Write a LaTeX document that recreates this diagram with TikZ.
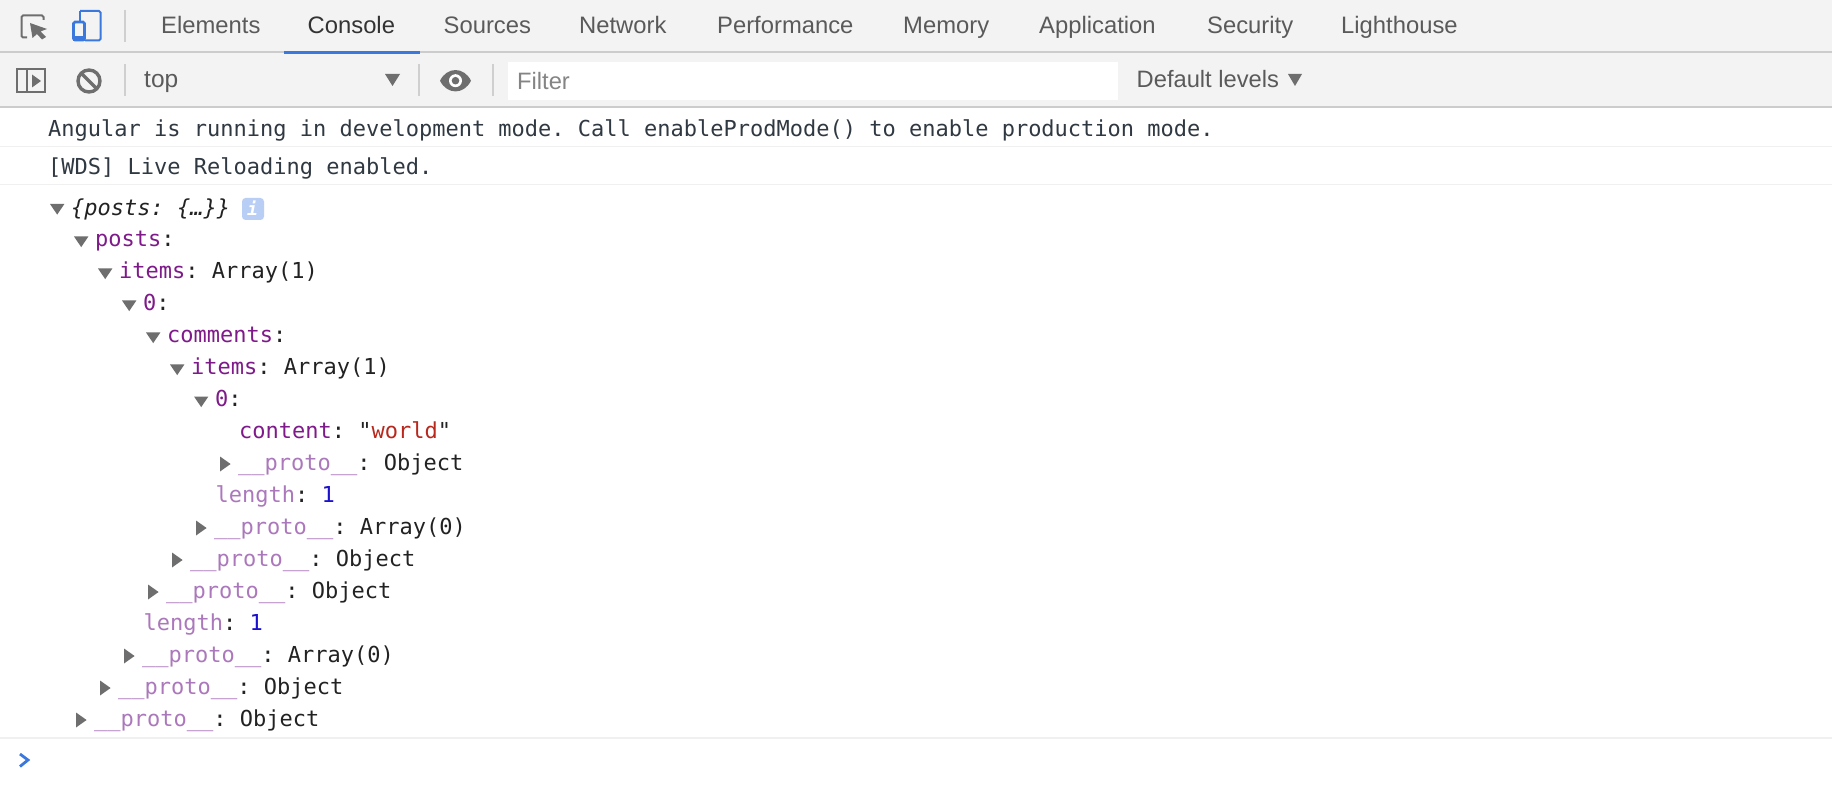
\documentclass[tikz,border=0pt]{standalone}
\usepackage{fontspec}
\setmainfont{Liberation Sans}
\setmonofont{DejaVu Sans Mono}
\definecolor{barbg}{HTML}{F3F3F3}
\definecolor{barline}{HTML}{CCCCCC}
\definecolor{rowline}{HTML}{F0F0F0}
\definecolor{sepcol}{HTML}{CFCFCF}
\definecolor{tabtxt}{HTML}{5A5A5A}
\definecolor{tabact}{HTML}{333333}
\definecolor{accent}{HTML}{3A78DE}
\definecolor{icongray}{HTML}{6E6E6E}
\definecolor{logtxt}{HTML}{303942}
\definecolor{keycol}{HTML}{7F1A8A}
\definecolor{fadecol}{HTML}{AC78BC}
\definecolor{strcol}{HTML}{B8281C}
\definecolor{numcol}{HTML}{1C10CF}
\definecolor{objcol}{HTML}{222222}
\definecolor{badge}{HTML}{B9CEF5}
\newcommand{\Ky}[1]{\textcolor{keycol}{#1}}
\newcommand{\Fd}[1]{\textcolor{fadecol}{#1}}
\newcommand{\Prt}{\Fd{\_\_proto\_\_}}
\newcommand{\Tdown}[2]{\fill[icongray] (#1,#2) -- ++(14.4,0) -- ++(-7.2,10.6) -- cycle;}
\newcommand{\Tright}[2]{\fill[icongray] (#1,#2) -- ++(10.6,7.5) -- ++(-10.6,7.5) -- cycle;}
\tikzset{
  x=1pt,y=-1pt,
  tab/.style={anchor=base west,inner sep=0pt,text=tabtxt,font=\fontsize{23.8}{28}\selectfont},
  bar/.style={anchor=base west,inner sep=0pt,text=tabtxt,font=\fontsize{23.7}{28}\selectfont},
  logline/.style={anchor=base west,inner sep=0pt,text=logtxt,font=\ttfamily\fontsize{22}{26}\selectfont},
  tree/.style={anchor=base west,inner sep=0pt,text=objcol,font=\ttfamily\fontsize{22}{26}\selectfont},
  sep/.style={draw=sepcol,line width=1.6pt},
}
\begin{document}
\begin{tikzpicture}
\useasboundingbox (0,0) rectangle (1832,802);
\fill[white] (0,0) rectangle (1832,802);
% bars
\fill[barbg] (0,0) rectangle (1832,106);
\draw[barline,line width=2pt] (0,52.5) -- (1832,52.5);
\draw[barline,line width=2pt] (0,107) -- (1832,107);
\draw[accent,line width=3pt] (284,52.3) -- (420,52.3);
\draw[rowline,line width=1.6pt] (0,146.7) -- (1832,146.7);
\draw[rowline,line width=1.6pt] (0,184.5) -- (1832,184.5);
\draw[rowline,line width=1.6pt] (0,738) -- (1832,738);
% tabs
\node[tab] (elements) at (161,34) {Elements};
\node[tab,text=tabact] (console) at (307.5,34) {Console};
\node[tab] (sources) at (443.5,34) {Sources};
\node[tab] (network) at (579,34) {Network};
\node[tab] (performance) at (717,34) {Performance};
\node[tab] (memory) at (903,34) {Memory};
\node[tab] (application) at (1039,34) {Application};
\node[tab] (security) at (1207,34) {Security};
\node[tab] (lighthouse) at (1341,34) {Lighthouse};
% top icons
\draw[icongray,line width=2pt,rounded corners=1.5pt] (27,37.5) -- (21.5,37.5) -- (21.5,15.5) -- (43.5,15.5) -- (43.5,20);
\fill[icongray] (30,23) -- (47,29) -- (40.5,31.5) -- (46,37) -- (42,39.5) -- (37,34) -- (32.5,38) -- cycle;
\draw[accent,line width=2pt,rounded corners=1.5pt] (80,11) -- (100.5,11) -- (100.5,40.5) -- (85,40.5);
\draw[accent,line width=2pt,rounded corners=1pt] (80,21) -- (80,11);
\draw[accent,line width=2.6pt,rounded corners=1.5pt] (73.5,22) rectangle (84.5,40);
\fill[accent] (73,36.5) rectangle (85,41.5);
\draw[sep] (125,10) -- (125,41.7);
% toolbar icons
\draw[icongray,line width=2pt] (17,69) rectangle (45,92.5);
\draw[icongray,line width=2pt] (26.5,69) -- (26.5,92.5);
\fill[icongray] (32,74.5) -- (41,81) -- (32,87.5) -- cycle;
\draw[icongray,line width=3.4pt] (89,81) circle (11);
\draw[icongray,line width=3.4pt] (81.5,73.5) -- (96.5,88.5);
\draw[sep] (125,64) -- (125,96);
\node[bar,font=\fontsize{24.5}{28}\selectfont] (top) at (144,88) {top};
\fill[icongray] (385,74) -- (400,74) -- (392.5,86) -- cycle;
\draw[sep] (419,64) -- (419,96);
\fill[icongray] (440,80.7) .. controls (447,66.5) and (464,66.5) .. (471,80.7) .. controls (464,95) and (447,95) .. (440,80.7) -- cycle;
\fill[white] (455.5,80.7) circle (6.5);
\fill[icongray] (455.5,80.7) circle (3.8);
\draw[sep] (493,64) -- (493,96);
\fill[white] (508,62) rectangle (1118,100);
\node[bar,text=icongray!85] (filter) at (517,89.5) {Filter};
\node[bar] (levels) at (1136.5,88) {Default levels};
\fill[icongray] (1288,74) -- (1302,74) -- (1295,86) -- cycle;
% log lines
\node[logline] (log1) at (48,137) {Angular is running in development mode. Call enableProdMode() to enable production mode.};
\node[logline] (log2) at (48,175) {[WDS] Live Reloading enabled.};
% tree
\Tdown{50}{204}
\node[tree] (r0) at (71,216) {\itshape\{posts: \{…\}\}};
\fill[badge,rounded corners=3.5pt] (242,198) rectangle (264,220);
\node[anchor=base,inner sep=0pt,text=white,font=\ttfamily\itshape\bfseries\fontsize{18}{20}\selectfont] (info) at (252.5,216) {i};
\Tdown{74}{236.5}
\node[tree] (r1) at (95,246.5) {\Ky{posts}:};
\Tdown{98}{268.5}
\node[tree] (r2) at (119,278.5) {\Ky{items}: Array(1)};
\Tdown{122}{300.5}
\node[tree] (r3) at (143,310.5) {\Ky{0}:};
\Tdown{146}{332.5}
\node[tree] (r4) at (167,342.5) {\Ky{comments}:};
\Tdown{170}{364.5}
\node[tree] (r5) at (191,374.5) {\Ky{items}: Array(1)};
\Tdown{194}{396.5}
\node[tree] (r6) at (215,406.5) {\Ky{0}:};
\node[tree] (r7) at (239,438) {\Ky{content}: "\textcolor{strcol}{world}"};
\Tright{220}{456.5}
\node[tree] (r8) at (238,470) {\Prt: Object};
\node[tree] (r9) at (215.5,502) {\Fd{length}: \textcolor{numcol}{1}};
\Tright{196}{520.5}
\node[tree] (r10) at (214,534) {\Prt: Array(0)};
\Tright{172}{552.5}
\node[tree] (r11) at (190,566) {\Prt: Object};
\Tright{148}{584.5}
\node[tree] (r12) at (166,598) {\Prt: Object};
\node[tree] (r13) at (143.5,630) {\Fd{length}: \textcolor{numcol}{1}};
\Tright{124}{648.5}
\node[tree] (r14) at (142,662) {\Prt: Array(0)};
\Tright{100}{680.5}
\node[tree] (r15) at (118,694) {\Prt: Object};
\Tright{76}{712.5}
\node[tree] (r16) at (94,726) {\Prt: Object};
% prompt
\draw[accent,line width=2.8pt] (20,754) -- (28,760) -- (20,766.5);
\end{tikzpicture}
\end{document}
